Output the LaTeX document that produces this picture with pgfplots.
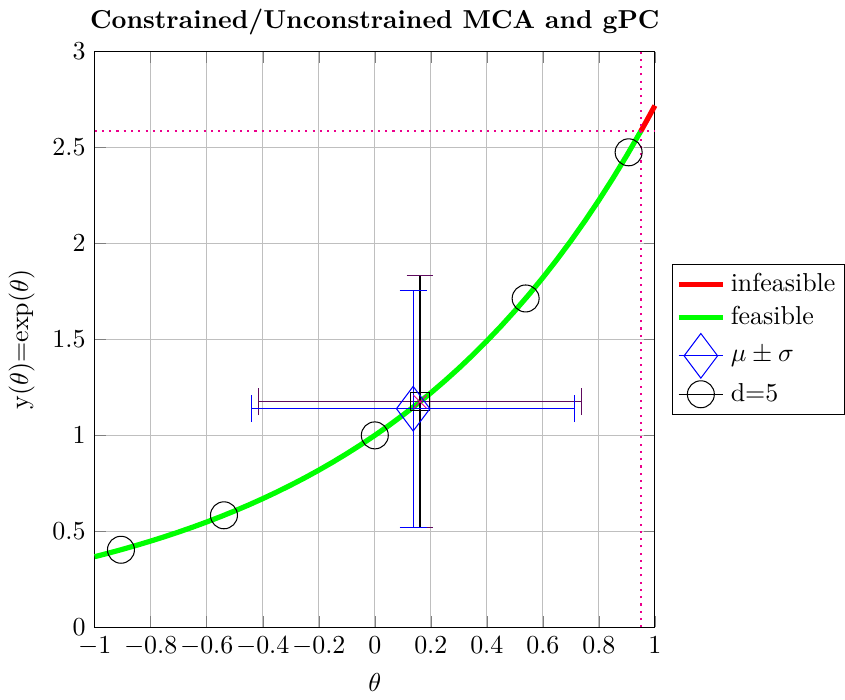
\documentclass[border=0pt]{standalone}
\usepackage{pgfplots}
\pgfplotsset{compat=1.18}
\definecolor{purp}{RGB}{95,10,95}
\begin{document}
\begin{tikzpicture}
\begin{axis}[
  scale only axis,
  width=216pt, height=222pt,
  xmin=-1, xmax=1, ymin=0, ymax=3,
  xtick={-1,-0.8,-0.6,-0.4,-0.2,0,0.2,0.4,0.6,0.8,1},
  ytick={0,0.5,1,1.5,2,2.5,3},
  grid=major,
  title={\textbf{Constrained/Unconstrained MCA and gPC}},
  title style={yshift=-3pt},
  xlabel={$\theta$},
  ylabel={y($\theta$)=exp($\theta$)},
  legend style={at={(1.03,0.5)}, anchor=west, cells={anchor=west},
    inner sep=1.5pt},
  unbounded coords=jump,
  clip=false,
]
% infeasible part of the curve
\addplot[red, line width=2pt] coordinates {
  (0.95,2.58571)(0.975,2.65116)(1,2.71828)
};
\addlegendentry{infeasible}
% feasible part
\addplot[green, line width=2pt] coordinates {
  (-1,0.36788)(-0.95,0.38674)(-0.9,0.40657)(-0.85,0.42741)(-0.8,0.44933)
  (-0.75,0.47237)(-0.7,0.49659)(-0.65,0.52205)(-0.6,0.54881)(-0.55,0.57695)
  (-0.5,0.60653)(-0.45,0.63763)(-0.4,0.67032)(-0.35,0.70469)(-0.3,0.74082)
  (-0.25,0.77880)(-0.2,0.81873)(-0.15,0.86071)(-0.1,0.90484)(-0.05,0.95123)
  (0,1)(0.05,1.05127)(0.1,1.10517)(0.15,1.16183)(0.2,1.22140)
  (0.25,1.28403)(0.3,1.34986)(0.35,1.41907)(0.4,1.49182)(0.45,1.56831)
  (0.5,1.64872)(0.55,1.73325)(0.6,1.82212)(0.65,1.91554)(0.7,2.01375)
  (0.75,2.11700)(0.8,2.22554)(0.85,2.33965)(0.9,2.45960)(0.95,2.58571)
};
\addlegendentry{feasible}
\addlegendimage{blue, mark=diamond, mark size=8.6pt, sharp plot}
\addlegendentry{$\mu \pm \sigma$}
\addlegendimage{black, mark=o, mark size=5.2pt, sharp plot}
\addlegendentry{d=5}
% unconstrained mean +- std: bars and caps
\addplot[black, forget plot] coordinates {(0.1614,0.5177)(0.1614,1.8327)};
\addplot[purp, forget plot] coordinates {
  (0.1134,0.5177)(0.2094,0.5177) (nan,nan)
  (0.1134,1.8327)(0.2094,1.8327) (nan,nan)
  (-0.416,1.1752)(0.7388,1.1752) (nan,nan)
  (-0.416,1.105)(-0.416,1.245) (nan,nan)
  (0.7388,1.105)(0.7388,1.245)
};
\addplot[black, only marks, mark=square, mark size=3.5pt, forget plot]
  coordinates {(0.1614,1.1752)};
\addplot[magenta, only marks, mark=x, mark size=3.5pt, forget plot]
  coordinates {(0.1614,1.1752)};
% constrained mean +- std: bars and caps
\addplot[blue, forget plot] coordinates {
  (0.137,0.521)(0.137,1.757) (nan,nan)
  (0.089,0.521)(0.185,0.521) (nan,nan)
  (0.089,1.757)(0.185,1.757) (nan,nan)
  (-0.440,1.139)(0.714,1.139) (nan,nan)
  (-0.440,1.069)(-0.440,1.209) (nan,nan)
  (0.714,1.069)(0.714,1.209)
};
\addplot[blue, mark=diamond, mark size=8.6pt, only marks, forget plot]
  coordinates {(0.137,1.139)};
% d=5 quadrature points
\addplot[black, only marks, mark=o, mark size=5.2pt, forget plot] coordinates {
  (-0.90618,0.40405)(-0.538469,0.58365)(0,1)(0.538469,1.71335)(0.90618,2.47488)
};
% feasibility limits
\addplot[magenta, thick, dotted, forget plot] coordinates {(0.95,0)(0.95,3)};
\addplot[magenta, thick, dotted, forget plot] coordinates {(-1,2.58571)(1,2.58571)};
\end{axis}
\end{tikzpicture}
\end{document}
